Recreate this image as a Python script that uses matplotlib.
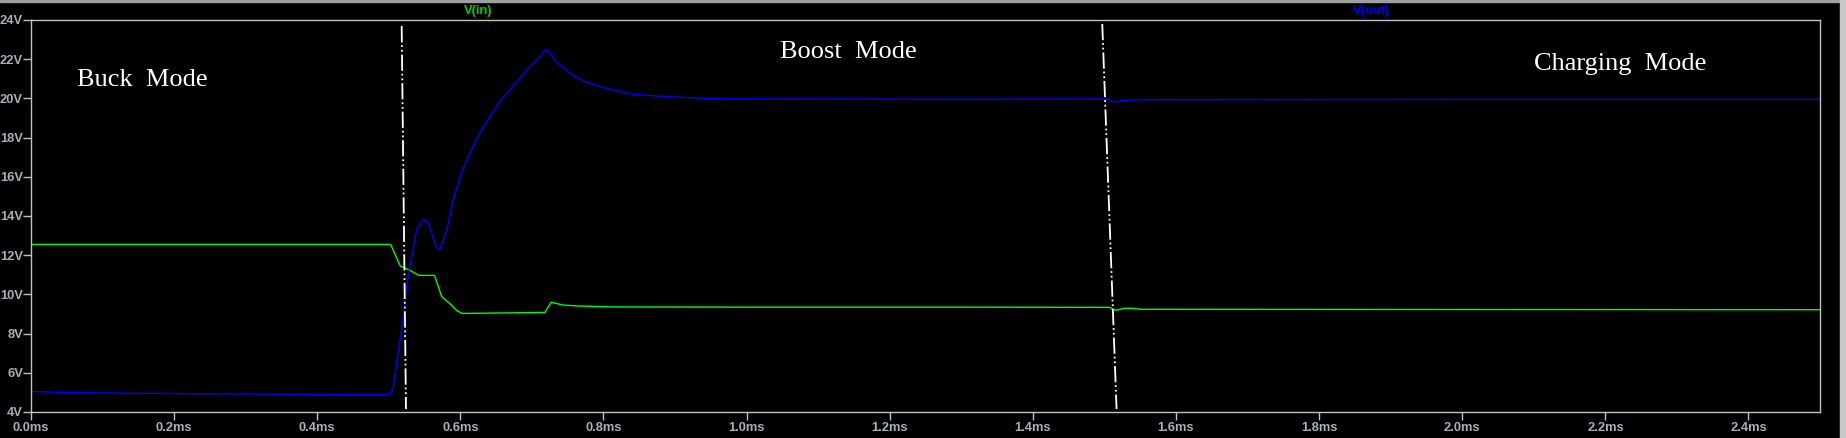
import matplotlib
matplotlib.use("Agg")
import matplotlib.pyplot as plt
import numpy as np

# ---- data (time in ms, voltage in V) ----
t_in = [0.0, 0.50, 0.503, 0.516, 0.529, 0.542, 0.564, 0.574, 0.585, 0.596, 0.603,
        0.70, 0.718, 0.727, 0.743, 0.764, 0.813, 1.0, 1.3, 1.507, 1.516, 1.528,
        1.539, 1.55, 2.0, 2.5]
v_in = [12.55, 12.55, 12.52, 11.45, 11.24, 10.97, 10.97, 9.88, 9.54, 9.15, 9.03,
        9.07, 9.08, 9.60, 9.46, 9.41, 9.36, 9.35, 9.35, 9.34, 9.19, 9.29,
        9.29, 9.24, 9.23, 9.22]

t_out = [0.0, 0.04, 0.10, 0.25, 0.40, 0.501, 0.506, 0.513, 0.519, 0.525, 0.532,
         0.539, 0.547, 0.553, 0.560, 0.566, 0.571, 0.581, 0.590, 0.601, 0.613,
         0.627, 0.641, 0.655, 0.669, 0.683, 0.697, 0.711, 0.718, 0.7225, 0.734,
         0.753, 0.771, 0.799, 0.841, 0.888, 0.958, 1.05, 1.30, 1.505, 1.512,
         1.525, 1.55, 2.0, 2.5]
v_out = [5.05, 5.00, 4.97, 4.93, 4.90, 4.88, 5.21, 7.00, 8.53, 10.39, 11.93,
         13.29, 13.80, 13.80, 13.12, 12.43, 12.27, 13.29, 14.82, 16.18, 17.20,
         18.22, 19.07, 19.83, 20.43, 21.03, 21.62, 22.13, 22.44, 22.44, 21.87,
         21.28, 20.90, 20.56, 20.21, 20.09, 19.98, 19.97, 19.96, 19.97, 19.82,
         19.90, 19.93, 19.95, 19.95]

# mode separators (start/end of each slanted marker line)
sep_t = [(0.518, 0.524), (1.497, 1.517)]
sep_v = [(23.69, 4.15), (23.8, 4.15)]

mode_labels = ["Buck  Mode", "Boost  Mode", "Charging  Mode"]
mode_t = [0.064, 1.046, 2.10]
mode_v = [20.94, 22.38, 21.73]

x_ticks = [0.0, 0.2, 0.4, 0.6, 0.8, 1.0, 1.2, 1.4, 1.6, 1.8, 2.0, 2.2, 2.4]
x_tick_labels = ["0.0ms", "0.2ms", "0.4ms", "0.6ms", "0.8ms", "1.0ms", "1.2ms",
                 "1.4ms", "1.6ms", "1.8ms", "2.0ms", "2.2ms", "2.4ms"]
y_ticks = [4, 6, 8, 10, 12, 14, 16, 18, 20, 22, 24]
y_tick_labels = ["4V", "6V", "8V", "10V", "12V", "14V", "16V", "18V", "20V", "22V", "24V"]

# ---- figure ----
W, H = 1846, 438
fig = plt.figure(figsize=(W / 100, H / 100), dpi=100, facecolor="black")
L, R, T, B = 31, 1820, 20, 412
ax = fig.add_axes([L / W, 1 - B / H, (R - L) / W, (B - T) / H])
ax.set_facecolor("black")

ax.plot(t_in, v_in, color="#00ff00", lw=1.0)
ax.plot(t_out, v_out, color="#0000ff", lw=1.0)

for (t0, t1), (v0, v1) in zip(sep_t, sep_v):
    ln, = ax.plot([t0, t1], [v0, v1], color="white", lw=1.3)
    ln.set_dashes([9, 1.6, 1.0, 1.6, 1.0, 1.6])

for lab, tx, vy in zip(mode_labels, mode_t, mode_v):
    ax.text(tx, vy, lab, color="white", fontsize=19, family="Liberation Serif",
            ha="left", va="center")

ax.set_xlim(0, 2.5)
ax.set_ylim(4, 24)
ax.set_xticks(x_ticks)
ax.set_xticklabels(x_tick_labels)
ax.set_yticks(y_ticks)
ax.set_yticklabels(y_tick_labels)

tick_col = "#a8b0b8"
ax.tick_params(axis="both", colors="#c0c0c0", labelcolor=tick_col, length=5.5,
               width=1, labelsize=9.3, direction="out")
ax.tick_params(axis="y", pad=0.3)
ax.tick_params(axis="x", pad=2)
for lbl in ax.get_xticklabels() + ax.get_yticklabels():
    lbl.set_fontweight("bold")
    lbl.set_family("Liberation Sans")
for s in ax.spines.values():
    s.set_color("#c0c0c0")
    s.set_linewidth(1.0)

fig.text(478 / W, 1 - 11 / H, "V(in)", color="#00d000", fontsize=9.3,
         fontweight="bold", family="Liberation Sans", ha="center", va="center")
fig.text(1371 / W, 1 - 11 / H, "V(out)", color="#0000ff", fontsize=9.3,
         fontweight="bold", family="Liberation Sans", ha="center", va="center")

# window border (grey)
fig.patches.append(plt.Rectangle((0, 1 - 2 / H), 1, 2 / H, transform=fig.transFigure,
                                 color="#a0a0a0", zorder=0))
fig.patches.append(plt.Rectangle((1840 / W, 0), 6 / W, 1, transform=fig.transFigure,
                                 color="#c8c8c8", zorder=0))

fig.savefig("out.png", dpi=100, facecolor="black")
